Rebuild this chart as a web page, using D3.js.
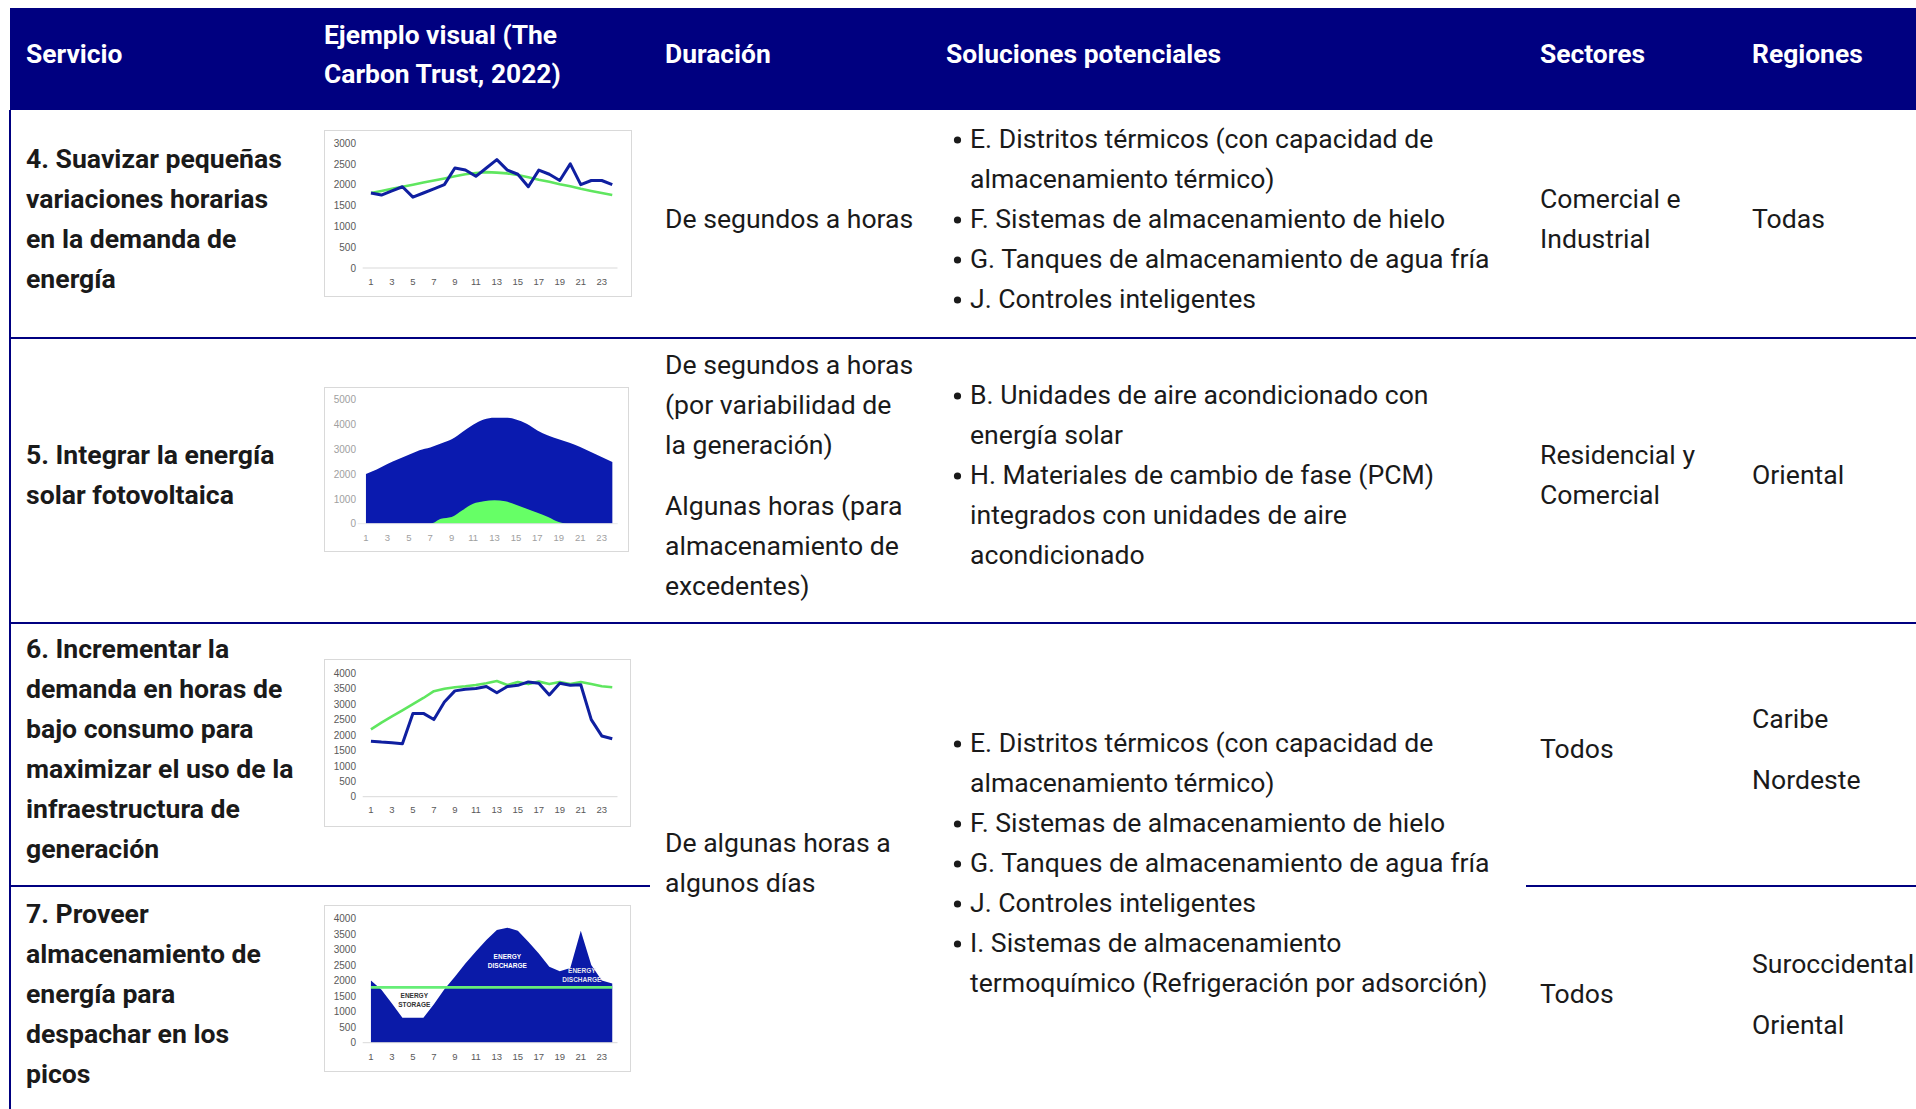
<!DOCTYPE html>
<html><head><meta charset="utf-8">
<script src="https://cdn.jsdelivr.net/npm/d3@7"></script>
<style>
html,body{margin:0;padding:0;background:#fff;}
svg{display:block;}
</style></head>
<body>
<svg id="c" width="1916" height="1109"></svg>
<script>
// ---------------- DATA ----------------
const headers = ["Servicio", ["Ejemplo visual (The", "Carbon Trust, 2022)"], "Duración", "Soluciones potenciales", "Sectores", "Regiones"];

const servicio = [
  ["4. Suavizar pequeñas", "variaciones horarias", "en la demanda de", "energía"],
  ["5. Integrar la energía", "solar fotovoltaica"],
  ["6. Incrementar la", "demanda en horas de", "bajo consumo para", "maximizar el uso de la", "infraestructura de", "generación"],
  ["7. Proveer", "almacenamiento de", "energía para", "despachar en los", "picos"]
];
const duracion = [
  [["De segundos a horas"]],
  [["De segundos a horas", "(por variabilidad de", "la generación)"], ["Algunas horas (para", "almacenamiento de", "excedentes)"]],
  [["De algunas horas a", "algunos días"]]
];
const soluciones = [
  [["E. Distritos térmicos (con capacidad de", "almacenamiento térmico)"], ["F. Sistemas de almacenamiento de hielo"], ["G. Tanques de almacenamiento de agua fría"], ["J. Controles inteligentes"]],
  [["B. Unidades de aire acondicionado con", "energía solar"], ["H. Materiales de cambio de fase (PCM)", "integrados con unidades de aire", "acondicionado"]],
  [["E. Distritos térmicos (con capacidad de", "almacenamiento térmico)"], ["F. Sistemas de almacenamiento de hielo"], ["G. Tanques de almacenamiento de agua fría"], ["J. Controles inteligentes"], ["I. Sistemas de almacenamiento", "termoquímico (Refrigeración por adsorción)"]]
];
const sectores = [["Comercial e", "Industrial"], ["Residencial y", "Comercial"], ["Todos"], ["Todos"]];
const regiones = [[["Todas"]], [["Oriental"]], [["Caribe"], ["Nordeste"]], [["Suroccidental"], ["Oriental"]]];

// mini chart data (hours 1..24)
const hours = [1,2,3,4,5,6,7,8,9,10,11,12,13,14,15,16,17,18,19,20,21,22,23,24];
const hourTicks = [1,3,5,7,9,11,13,15,17,19,21,23];

const c1Demand = [1800,1750,1850,1950,1700,1800,1900,2000,2400,2350,2200,2400,2600,2350,2250,1950,2350,2250,2100,2500,2000,2100,2100,2000];
const c1Trend  = [1800,1850,1900,1950,2000,2050,2100,2150,2200,2250,2280,2300,2290,2270,2230,2180,2120,2070,2010,1960,1900,1850,1800,1750];
const c1Ticks = [0,500,1000,1500,2000,2500,3000];

const c2Demand = [2000,2180,2400,2590,2770,2950,3060,3220,3390,3690,3980,4190,4260,4260,4190,4020,3750,3550,3390,3250,3080,2880,2680,2480];
const c2Solar  = [0,0,0,0,0,0,0,200,270,540,800,900,940,900,760,600,440,270,70,0,0,0,0,0];
const c2Ticks = [0,1000,2000,3000,4000,5000];

const c3Demand = [1800,1770,1750,1720,2700,2700,2500,3070,3430,3480,3510,3570,3370,3570,3610,3720,3680,3300,3680,3610,3630,2500,1970,1880];
const c3Target = [2180,2400,2600,2800,3000,3200,3420,3500,3550,3580,3620,3680,3750,3620,3720,3650,3730,3650,3720,3650,3720,3650,3580,3550];
const c3Ticks = [0,500,1000,1500,2000,2500,3000,3500,4000];

const c4Demand = [2000,1700,1260,800,800,800,1240,1715,2120,2550,2930,3300,3620,3700,3600,3250,2870,2440,2300,2400,3600,2500,2000,1900];
const c4Flat   = [1780,1780,1780,1780,1780,1780,1780,1780,1780,1780,1780,1780,1780,1780,1780,1780,1780,1780,1780,1780,1780,1780,1780,1780];
const c4Ticks = [0,500,1000,1500,2000,2500,3000,3500,4000];
const c4Labels = [
  {lines:["ENERGY","STORAGE"], h:5.13, v:1437, color:"#333"},
  {lines:["ENERGY","DISCHARGE"], h:14, v:2690, color:"#fff"},
  {lines:["ENERGY","DISCHARGE"], h:21.1, v:2240, color:"#e4e4ee"}
];

// ---------------- LAYOUT ----------------
const NAVY = "#000080";
const TXT = "#1a1a1a";
const FS = 26.6, LH = 40, PGAP = 61;
const svg = d3.select("#c");

// header
svg.append("rect").attr("x", 10).attr("y", 8).attr("width", 1906).attr("height", 102).attr("fill", NAVY);
const colX = [26, 324, 665, 946, 1540, 1752];
headers.forEach((h, i) => {
  const lines = Array.isArray(h) ? h : [h];
  const t = svg.append("text").attr("fill", "#fff").attr("font-family", "Roboto").attr("font-weight", 700)
    .attr("font-size", 26.4).attr("x", colX[i]);
  lines.forEach((l, j) => {
    const cy = 54 + (j - (lines.length - 1) / 2) * 39;
    t.append("tspan").attr("x", colX[i]).attr("y", cy + 9).text(l);
  });
});

// table lines
const line = (x1, y1, x2, y2) => svg.append("line").attr("x1", x1).attr("y1", y1).attr("x2", x2).attr("y2", y2)
  .attr("stroke", NAVY).attr("stroke-width", 2);
line(10, 110, 10, 1109);
line(10, 338, 1916, 338);
line(10, 623, 1916, 623);
line(10, 886, 650, 886);
line(1526, 886, 1916, 886);

// text helper: paragraphs (arrays of lines), vertically centred at cy
function block(x, cy, paras, opts = {}) {
  const gap = opts.bullet ? LH : PGAP;
  const n = paras.reduce((s, p) => s + p.length, 0);
  const total = (n - paras.length) * LH + (paras.length - 1) * gap;
  let y = cy + 1 - total / 2;
  paras.forEach((p, pi) => {
    p.forEach((l, li) => {
      if (opts.bullet && li === 0) {
        svg.append("circle").attr("cx", x - 12.5).attr("cy", y + 1).attr("r", 3.6).attr("fill", TXT);
      }
      svg.append("text").attr("x", x).attr("y", y + 9).attr("font-family", "Roboto")
        .attr("font-size", FS).attr("font-weight", opts.bold ? 700 : 400).attr("fill", TXT).text(l);
      if (li < p.length - 1) y += LH;
    });
    y += gap;
  });
}
const rowC = [218, 474, 748, 993];
servicio.forEach((s, i) => block(26, rowC[i], [s], {bold: true}));
block(665, rowC[0], duracion[0]);
block(665, rowC[1], duracion[1]);
block(665, 862, duracion[2]);
block(970, rowC[0], soluciones[0], {bullet: true});
block(970, rowC[1], soluciones[1], {bullet: true});
block(970, 862, soluciones[2], {bullet: true});
sectores.forEach((s, i) => block(1540, rowC[i], [s]));
regiones.forEach((r, i) => block(1752, rowC[i], r));

// ---------------- MINI CHARTS ----------------
function miniChart(cfg) {
  const g = svg.append("g");
  g.append("rect").attr("x", cfg.box[0] + 0.5).attr("y", cfg.box[1] + 0.5).attr("width", cfg.box[2] - cfg.box[0])
    .attr("height", cfg.box[3] - cfg.box[1]).attr("fill", "#fff").attr("stroke", "#d9d9d9");
  const x = d3.scaleBand().domain(hours).range(cfg.xr);
  const xc = d => x(d) + x.bandwidth() / 2;
  const y = d3.scaleLinear().domain([0, cfg.ymax]).range(cfg.yr);
  (cfg.areas || []).forEach(a => {
    const ar = d3.area().x((d, i) => xc(hours[i])).y0(y(0)).y1(d => y(d)).curve(cfg.curve || d3.curveLinear);
    g.append("path").datum(a.data).attr("d", ar).attr("fill", a.color);
  });
  const xa = g.append("g").attr("transform", `translate(0,${cfg.yr[0]})`)
    .call(d3.axisBottom(x).tickValues(hourTicks).tickSize(0).tickPadding(cfg.xpad));
  xa.select(".domain").attr("stroke", cfg.axisColor || "#d9d9d9").attr("d", `M${cfg.xr[0] - 3},0H${cfg.xr[1]}`);
  xa.selectAll("text").attr("font-family", "Liberation Sans").attr("font-size", 9.5).attr("fill", cfg.lab);
  const ya = g.append("g").attr("transform", `translate(${cfg.yx},0)`)
    .call(d3.axisLeft(y).tickValues(cfg.ticks).tickSize(0).tickPadding(0).tickFormat(d3.format("d")));
  ya.select(".domain").remove();
  ya.selectAll("text").attr("font-family", "Liberation Sans").attr("font-size", 10).attr("fill", cfg.lab);
  (cfg.lines || []).forEach(l => {
    const ln = d3.line().x((d, i) => xc(hours[i])).y(d => y(d));
    g.append("path").datum(l.data).attr("d", ln).attr("fill", "none").attr("stroke", l.color)
      .attr("stroke-width", l.w).attr("stroke-linejoin", "round");
  });
  (cfg.labels || []).forEach(lb => {
    const t = g.append("text").attr("font-family", "Liberation Sans").attr("font-weight", 700).attr("font-size", 6.5)
      .attr("fill", lb.color).attr("text-anchor", "middle");
    const fx = x(Math.floor(lb.h)) + x.bandwidth() * (lb.h - Math.floor(lb.h) + 0.5);
    lb.lines.forEach((s, j) => t.append("tspan").attr("x", fx).attr("y", y(lb.v) + j * 9).text(s));
  });
}

miniChart({box: [324, 130, 631, 296], xr: [365.7, 617.5], yr: [268, 143], ymax: 3000, ticks: c1Ticks, yx: 356, xpad: 10,
  lab: "#595959",
  lines: [{data: c1Trend, color: "#5fe65f", w: 2.6}, {data: c1Demand, color: "#0f1fa0", w: 3}]});

miniChart({box: [324, 387, 628, 551], xr: [360.6, 617.7], yr: [523.7, 399.3], ymax: 5000, ticks: c2Ticks, yx: 356, xpad: 11,
  lab: "#a0a0a0", axisColor: "#e8e8e8", curve: d3.curveMonotoneX,
  areas: [{data: c2Demand, color: "#0a1aaf"}, {data: c2Solar, color: "#66ff66"}]});

miniChart({box: [324, 659, 630, 826], xr: [365.7, 617.5], yr: [796.7, 673.3], ymax: 4000, ticks: c3Ticks, yx: 356, xpad: 10,
  lab: "#595959",
  lines: [{data: c3Target, color: "#5fe65f", w: 2.6}, {data: c3Demand, color: "#0f1fa0", w: 3}]});

miniChart({box: [324, 905, 630, 1071], xr: [365.7, 617.5], yr: [1042.7, 918.3], ymax: 4000, ticks: c4Ticks, yx: 356, xpad: 11,
  lab: "#595959",
  areas: [{data: c4Demand, color: "#0a1aa8"}],
  lines: [{data: c4Flat, color: "#66ee77", w: 2.8}],
  labels: c4Labels});
</script>
</body></html>
